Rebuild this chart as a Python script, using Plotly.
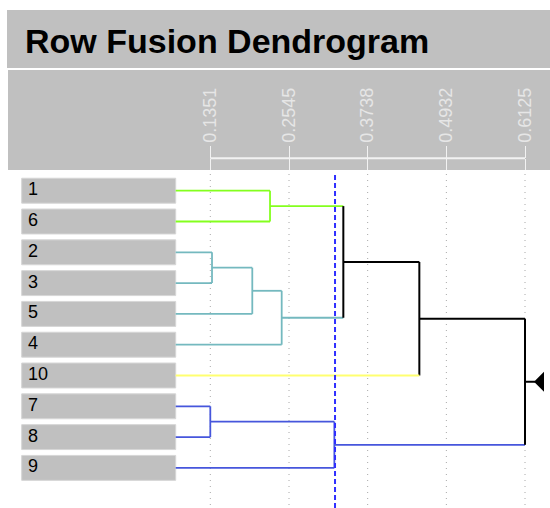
import plotly.graph_objects as go

# ---------------- data ----------------
leaf_labels = ["1", "6", "2", "3", "5", "4", "10", "7", "8", "9"]
# merges (children: 0-9 = leaf positions above, 10+ = earlier merges)
merge_a = [7, 2, 11, 0, 12, 10, 13, 16, 17]
merge_b = [8, 3, 4, 1, 5, 9, 14, 6, 15]
merge_h = [0.1351, 0.1377, 0.1988, 0.2257, 0.2434, 0.3233, 0.3369, 0.4522, 0.6125]
cut_height = 0.3243
tick_vals = [0.1351, 0.2545, 0.3738, 0.4932, 0.6125]
tick_text = ["0.1351", "0.2545", "0.3738", "0.4932", "0.6125"]
cluster_palette = ["#84ff1e", "#74b9bf", "#ffff70", "#4656dc"]

# ---------------- layout constants ----------------
W, H = 550, 508
X_RANGE = [-0.1839, 0.6504]
Y_RANGE = [10.302, -6.192]
LEAF_X = 0.0826
BOX_LEFT = -0.1510
LABEL_X = -0.1415
FONT = "Liberation Sans, Arial, sans-serif"


def py(p):  # pixel row -> paper y
    return 1 - p / H


def pxx(p):  # pixel col -> paper x
    return p / W


n_leaf = len(leaf_labels)
n_node = n_leaf + len(merge_h)
height = [None] * n_leaf + merge_h
ypos = list(range(n_leaf)) + [None] * len(merge_h)
parent = [None] * n_node
for i, (a, b) in enumerate(zip(merge_a, merge_b)):
    m = n_leaf + i
    ypos[m] = (ypos[a] + ypos[b]) / 2
    parent[a] = m
    parent[b] = m


def xval(n):
    return LEAF_X if height[n] is None else height[n]


def below_cut(n):
    return height[n] is None or height[n] < cut_height


def first_leaf(n):
    while n >= n_leaf:
        i = n - n_leaf
        n = merge_a[i] if ypos[merge_a[i]] < ypos[merge_b[i]] else merge_b[i]
    return n


roots = [n for n in range(n_node)
         if below_cut(n) and (parent[n] is None or not below_cut(parent[n]))]
roots.sort(key=lambda n: first_leaf(n))
root_color = {r: cluster_palette[k % len(cluster_palette)] for k, r in enumerate(roots)}


def color(n):
    if not below_cut(n):
        return "#000000"
    while n not in root_color:
        n = parent[n]
    return root_color[n]


segs = {}


def add(c, xs, ys):
    d = segs.setdefault(c, ([], []))
    d[0].extend(xs + [None])
    d[1].extend(ys + [None])


for i, (a, b) in enumerate(zip(merge_a, merge_b)):
    m = n_leaf + i
    for c in (a, b):
        add(color(c), [xval(c), height[m]], [ypos[c], ypos[c]])
    add(color(m), [height[m], height[m]], [ypos[a], ypos[b]])

fig = go.Figure()

# label boxes
fig.add_trace(go.Bar(
    orientation="h",
    y=list(range(n_leaf)),
    x=[LEAF_X - BOX_LEFT] * n_leaf,
    base=BOX_LEFT,
    width=0.81,
    marker=dict(color="#c0c0c0", line=dict(color="#d6d6d6", width=1)),
    hoverinfo="skip",
    showlegend=False,
))
# label texts
fig.add_trace(go.Scatter(
    x=[LABEL_X] * n_leaf, y=list(range(n_leaf)),
    mode="text", text=leaf_labels, textposition="middle right",
    textfont=dict(family=FONT, size=18, color="#000000"),
    hoverinfo="skip", showlegend=False,
))

for c, (xs, ys) in segs.items():
    fig.add_trace(go.Scatter(
        x=xs, y=ys, mode="lines",
        line=dict(color=c, width=2 if c == "#000000" else 1.8),
        hoverinfo="skip", showlegend=False,
    ))

# dummy traces for the tick axes
fig.add_trace(go.Scatter(x=[tick_vals[0]], y=[-3], xaxis="x2", mode="markers",
                         marker=dict(opacity=0), showlegend=False, hoverinfo="skip"))
fig.add_trace(go.Scatter(x=[tick_vals[0]], y=[-3], xaxis="x3", mode="markers",
                         marker=dict(opacity=0), showlegend=False, hoverinfo="skip"))

axis_px = 158.3
shapes = [
    dict(type="rect", xref="paper", yref="paper", x0=pxx(7), x1=1, y0=py(68), y1=py(10),
         fillcolor="#c0c0c0", line=dict(width=0), layer="below"),
    dict(type="rect", xref="paper", yref="paper", x0=pxx(8), x1=1, y0=py(170), y1=py(70),
         fillcolor="#c0c0c0", line=dict(width=0), layer="below"),
    dict(type="line", xref="x", yref="paper", x0=tick_vals[0], x1=tick_vals[-1],
         y0=py(axis_px), y1=py(axis_px), line=dict(color="#f2f2f2", width=2)),
]
for v in tick_vals:
    shapes.append(dict(type="line", xref="x", yref="paper", x0=v, x1=v, y0=py(505), y1=py(172),
                       line=dict(color="#a8a8a8", width=1, dash="1px,5px"), layer="below"))
shapes.append(dict(type="line", xref="x", yref="paper", x0=cut_height, x1=cut_height,
                   y0=py(508), y1=py(175),
                   line=dict(color="#2f2fff", width=2, dash="5px,3px"), layer="above"))

root = n_node - 1
shapes.append(dict(type="line", xref="x", yref="y", xsizemode="pixel", xanchor=height[root],
                   x0=0, x1=10, y0=ypos[root], y1=ypos[root],
                   line=dict(color="#000000", width=2)))
shapes.append(dict(type="path", xref="x", yref="y", xsizemode="pixel", ysizemode="pixel",
                   xanchor=height[root], yanchor=ypos[root],
                   path="M 9,0 L 19,10 L 19,-10 Z",
                   fillcolor="#000000", line=dict(width=0)))

axis_pos = py(axis_px)
fig.update_layout(
    width=W, height=H,
    margin=dict(l=0, r=0, t=0, b=0),
    paper_bgcolor="#ffffff", plot_bgcolor="#ffffff",
    showlegend=False,
    xaxis=dict(range=X_RANGE, visible=False, domain=[0, 1]),
    xaxis2=dict(range=X_RANGE, overlaying="x", anchor="free", position=axis_pos, side="top",
                tickmode="array", tickvals=tick_vals, ticktext=tick_text, tickangle=-90,
                ticks="outside", ticklen=12, tickwidth=1, tickcolor="#f2f2f2",
                showline=False,
                tickfont=dict(family=FONT, size=18, color="#e6e6e6"),
                showgrid=False, zeroline=False),
    xaxis3=dict(range=X_RANGE, overlaying="x", anchor="free", position=axis_pos, side="bottom",
                tickmode="array", tickvals=tick_vals, ticks="outside", ticklen=11, tickwidth=1,
                tickcolor="#f2f2f2", showticklabels=False, showline=False,
                showgrid=False, zeroline=False),
    yaxis=dict(range=Y_RANGE, visible=False, domain=[0, 1]),
    shapes=shapes,
    annotations=[dict(text="<b>Row Fusion Dendrogram</b>", xref="paper", yref="paper",
                      x=pxx(23), y=py(41), xanchor="left", yanchor="middle", showarrow=False,
                      font=dict(family=FONT, size=34, color="#000000"))],
)

fig.write_html("out.html", config={"displayModeBar": False},
               post_script="document.body.style.margin='0px';")
